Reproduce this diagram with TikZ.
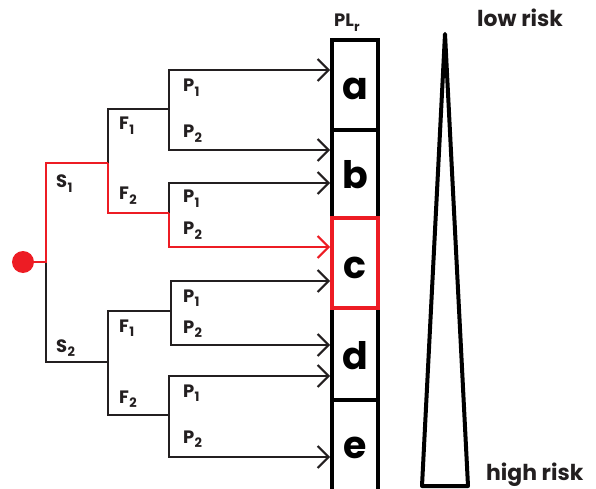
\documentclass[tikz,border=0pt]{standalone}
\usepackage{fontspec}
\setmainfont{Poppins}
\usetikzlibrary{arrows.meta}
\definecolor{rred}{HTML}{ED1C24}
\definecolor{ink}{HTML}{231F20}
\newcommand{\lab}[2]{#1\kern0.3pt\raisebox{-0.45ex}{\fontsize{13}{13}\selectfont #2}}
\begin{document}
\begin{tikzpicture}[x=1bp,y=-1bp,
  tree/.style={line width=2bp, draw=ink},
  hot/.style={line width=2bp, draw=rred},
  arr/.style={-{Straight Barb[length=11bp,width=22bp]}},
  lbl/.style={anchor=base west, inner sep=0pt, font=\fontsize{18}{18}\selectfont\bfseries, text=ink},
  risk/.style={anchor=base west, inner sep=0pt, font=\fontsize{22}{22}\selectfont\bfseries, text=ink},
  cell/.style={draw=black, line width=4bp, minimum width=46bp, inner sep=0pt, outer sep=0pt,
    text height=30bp, text depth=0pt, font=\fontsize{38}{38}\selectfont\bfseries, text=black}
]
\useasboundingbox (0,0) rectangle (596,489);

% column of risk levels
\node[cell, minimum height=90bp] (a) at (355,85) {a};
\node[cell, minimum height=88bp] (b) at (355,174) {b};
\node[cell, minimum height=92bp] (d) at (355,354) {d};
\node[cell, draw=none, minimum height=86bp] (e) at (355,443) {e};
\draw[line width=4bp] ([yshift=-20bp]e.south west) -- (e.north west) -- (e.north east) -- ([yshift=-20bp]e.south east);
\node[cell, draw=rred, minimum height=90bp] (c) at (355,263) {c};

\node[lbl] (plr) at (334,27) {\lab{PL}{r}};

% risk triangle
\coordinate (apex) at (445,34);
\coordinate (bl) at (422,486);
\coordinate (br) at (468,486);
\draw[line width=4bp, line join=round] (apex) -- (br) -- (bl) -- cycle;
\node[risk] (low) at (477,27) {low risk};
\node[risk] (high) at (486,480) {high risk};

% root
\node[circle, fill=rred, inner sep=0pt, minimum size=22bp] (root) at (23,262) {};
\coordinate (j0) at (46,262);
\coordinate (s1) at (108,163);
\coordinate (s2) at (108,362);
\coordinate (f11) at (169,109);
\coordinate (f12) at (169,213);
\coordinate (f21) at (171,311);
\coordinate (f22) at (169,415);
% arrow ends
\coordinate (e1) at (330,70);
\coordinate (e2) at (330,150);
\coordinate (e3) at (330,183);
\coordinate (e4) at (330,247);
\coordinate (e5) at (330,281);
\coordinate (e6) at (330,345);
\coordinate (e7) at (330,376);
\coordinate (e8) at (330,457);

% black branches
\draw[tree] (j0) |- (s2);
\draw[tree] (s1) |- (f11);
\draw[tree] (s2) |- (f21);
\draw[tree] (s2) |- (f22);
\draw[tree, arr] (f11) |- (e1);
\draw[tree, arr] (f11) |- (e2);
\draw[tree, arr] (f12) |- (e3);
\draw[tree, arr] (f21) |- (e5);
\draw[tree, arr] (f21) |- (e6);
\draw[tree, arr] (f22) |- (e7);
\draw[tree, arr] (f22) |- (e8);
% highlighted path
\draw[hot] (root) -- (j0) |- (s1);
\draw[hot] (s1) |- (f12);
\draw[hot, arr] (f12) |- (e4);

% labels
\node[lbl] (ls1) at (56,188) {\lab{S}{1}};
\node[lbl] (ls2) at (56,352) {\lab{S}{2}};
\node[lbl] (lf11) at (119,130) {\lab{F}{1}};
\node[lbl] (lf12) at (119,200) {\lab{F}{2}};
\node[lbl] (lf21) at (119,332) {\lab{F}{1}};
\node[lbl] (lf22) at (119,403) {\lab{F}{2}};
\node[lbl] (lp1) at (183,92) {\lab{P}{1}};
\node[lbl] (lp2) at (183,138) {\lab{P}{2}};
\node[lbl] (lp3) at (183,203) {\lab{P}{1}};
\node[lbl] (lp4) at (183,235) {\lab{P}{2}};
\node[lbl] (lp5) at (183,302) {\lab{P}{1}};
\node[lbl] (lp6) at (183,333) {\lab{P}{2}};
\node[lbl] (lp7) at (183,397) {\lab{P}{1}};
\node[lbl] (lp8) at (183,443) {\lab{P}{2}};
\end{tikzpicture}
\end{document}
